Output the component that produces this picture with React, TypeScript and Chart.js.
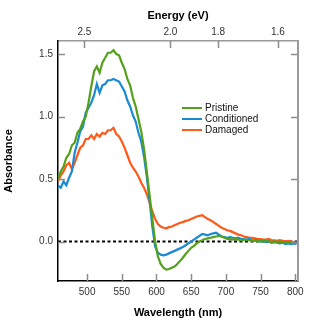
import React, { useEffect, useRef } from "react";
import { Chart, registerables } from "chart.js";

Chart.register(...registerables);

// ---- data ----
const WAVELENGTHS = [
  458, 462, 466, 470, 474, 478, 482, 486, 490, 494, 498, 502, 506, 510, 514, 518, 522, 526, 530, 534,
  538, 542, 546, 550, 554, 558, 562, 566, 570, 574, 578, 582, 586, 590, 594, 598, 602, 606, 610, 614,
  618, 622, 626, 630, 634, 638, 642, 646, 650, 654, 658, 662, 666, 670, 674, 678, 682, 686, 690, 694,
  698, 702, 706, 710, 714, 718, 722, 726, 730, 734, 738, 742, 746, 750, 754, 758, 762, 766, 770, 774,
  778, 782, 786, 790, 794, 798, 802,
];

const PRISTINE = [
  0.5, 0.56, 0.6, 0.67, 0.7, 0.77, 0.79, 0.87, 0.9, 0.96, 1.0, 1.11, 1.24, 1.36, 1.4, 1.35, 1.43, 1.47, 1.51, 1.51,
  1.53, 1.5, 1.49, 1.43, 1.38, 1.3, 1.25, 1.15, 1.08, 0.98, 0.88, 0.74, 0.56, 0.37, 0.18, 0.0, -0.12, -0.18, -0.21, -0.225,
  -0.22, -0.21, -0.2, -0.18, -0.155, -0.13, -0.1, -0.075, -0.05, -0.035, -0.015, 0.0, 0.01, 0.02, 0.025, 0.03, 0.035, 0.04, 0.045, 0.04,
  0.03, 0.02, 0.02, 0.015, 0.02, 0.015, 0.01, 0.015, 0.01, 0.01, 0.005, 0.01, 0.0, 0.005, 0.0, 0.005, 0.0, -0.005, 0.0, -0.005,
  0.0, -0.01, -0.005, -0.01, -0.005, -0.01, -0.01,
];

const CONDITIONED = [
  0.45, 0.43, 0.48, 0.45, 0.51, 0.56, 0.71, 0.79, 0.88, 0.92, 1.03, 1.07, 1.11, 1.17, 1.26, 1.19, 1.25, 1.26, 1.29, 1.29,
  1.3, 1.29, 1.28, 1.24, 1.2, 1.13, 1.08, 1.01, 0.96, 0.87, 0.8, 0.68, 0.52, 0.33, 0.12, -0.04, -0.09, -0.105, -0.11, -0.105,
  -0.095, -0.085, -0.075, -0.065, -0.055, -0.045, -0.03, -0.015, 0.0, 0.015, 0.03, 0.045, 0.06, 0.055, 0.05, 0.06, 0.065, 0.07, 0.055, 0.04,
  0.035, 0.03, 0.035, 0.03, 0.025, 0.03, 0.02, 0.02, 0.015, 0.02, 0.01, 0.005, 0.01, 0.0, 0.005, -0.005, 0.0, -0.01, -0.005, -0.01,
  -0.015, -0.01, -0.02, -0.015, -0.02, -0.015, -0.02,
];

const DAMAGED = [
  0.48, 0.53, 0.56, 0.61, 0.63, 0.58, 0.63, 0.69, 0.75, 0.77, 0.82, 0.82, 0.85, 0.82, 0.86, 0.84, 0.87, 0.86, 0.89, 0.89,
  0.91, 0.86, 0.84, 0.8, 0.75, 0.69, 0.63, 0.59, 0.56, 0.52, 0.47, 0.43, 0.38, 0.31, 0.24, 0.18, 0.14, 0.12, 0.11, 0.105,
  0.115, 0.12, 0.13, 0.14, 0.15, 0.155, 0.165, 0.17, 0.18, 0.19, 0.2, 0.205, 0.21, 0.195, 0.18, 0.17, 0.155, 0.14, 0.125, 0.11,
  0.1, 0.09, 0.085, 0.075, 0.065, 0.055, 0.05, 0.04, 0.035, 0.03, 0.03, 0.025, 0.02, 0.02, 0.015, 0.015, 0.02, 0.01, 0.01, 0.005,
  0.01, 0.005, 0.0, 0.005, 0.0, -0.005, -0.01,
];

const SERIES_NAMES = ["Pristine", "Conditioned", "Damaged"];
const SERIES_COLORS = ["#55a01a", "#1a8ad4", "#ff5a1a"];

const BASELINE_X = [458, 804];
const BASELINE_Y = [0, 0];

const WAVELENGTH_RANGE = [458, 804];
const ABSORBANCE_RANGE = [-0.316, 1.604];
const WAVELENGTH_TICKS = [500, 550, 600, 650, 700, 750, 800];
const ENERGY_TICKS = [2.5, 2.0, 1.8, 1.6];
const ABSORBANCE_TICKS = [0, 0.5, 1.0, 1.5];
const HC_EV_NM = 1240;

const FONT = "'Liberation Sans', Arial, Helvetica, sans-serif";

const inwardTicks = {
  id: "inwardTicks",
  afterDatasetsDraw(chart: any) {
    const { ctx, chartArea: a } = chart;
    const xs = chart.scales.x;
    const xt = chart.scales.xTop;
    const ys = chart.scales.y;
    ctx.save();
    ctx.strokeStyle = "#8c8c8c";
    ctx.lineWidth = 1.5;
    ctx.beginPath();
    for (const t of xs.ticks) {
      const px = Math.round(xs.getPixelForValue(t.value)) + 0.5;
      ctx.moveTo(px, a.bottom);
      ctx.lineTo(px, a.bottom - 7);
    }
    for (const t of xt.ticks) {
      const px = Math.round(xt.getPixelForValue(t.value)) + 0.5;
      ctx.moveTo(px, a.top);
      ctx.lineTo(px, a.top + 7);
    }
    for (const t of ys.ticks) {
      const py = Math.round(ys.getPixelForValue(t.value)) + 0.5;
      ctx.moveTo(a.left, py);
      ctx.lineTo(a.left + 7, py);
      ctx.moveTo(a.right, py);
      ctx.lineTo(a.right - 7, py);
    }
    ctx.stroke();
    ctx.strokeStyle = "#9a9a9a";
    ctx.lineWidth = 2;
    ctx.beginPath();
    ctx.moveTo(a.right, a.top);
    ctx.lineTo(a.right, a.bottom);
    ctx.stroke();
    ctx.restore();
  },
};

const insideLegend = {
  id: "insideLegend",
  afterDraw(chart: any) {
    const { ctx, chartArea: a } = chart;
    const x0 = a.left + 124;
    const y0 = a.top + 67;
    ctx.save();
    ctx.font = `10px ${FONT}`;
    ctx.textBaseline = "middle";
    ctx.textAlign = "left";
    let row = 0;
    chart.data.datasets.forEach((ds: any) => {
      if (!SERIES_NAMES.includes(ds.label)) return;
      const y = y0 + row * 11;
      ctx.strokeStyle = ds.borderColor;
      ctx.lineWidth = 2;
      ctx.beginPath();
      ctx.moveTo(x0, y);
      ctx.lineTo(x0 + 20, y);
      ctx.stroke();
      ctx.fillStyle = "#111";
      ctx.fillText(ds.label, x0 + 23, y);
      row++;
    });
    ctx.restore();
  },
};

export default function App() {
  const ref = useRef<HTMLCanvasElement | null>(null);

  useEffect(() => {
    document.body.style.margin = "0";
    const canvas = ref.current;
    if (!canvas) return;
    const seriesValues = [PRISTINE, CONDITIONED, DAMAGED];
    const datasets: any[] = SERIES_NAMES.map((name, i) => ({
      label: name,
      data: WAVELENGTHS.map((w, j) => ({ x: w, y: seriesValues[i][j] })),
      borderColor: SERIES_COLORS[i],
      borderWidth: 2.2,
      pointRadius: 0,
      fill: false,
      tension: 0,
    }));
    datasets.push({
      label: "baseline",
      data: BASELINE_X.map((x, j) => ({ x, y: BASELINE_Y[j] })),
      borderColor: "#000",
      borderWidth: 2,
      borderDash: [3, 2.5],
      pointRadius: 0,
      fill: false,
    });

    const chart = new Chart(canvas, {
      type: "line",
      data: { datasets },
      plugins: [inwardTicks, insideLegend],
      options: {
        animation: false,
        responsive: false,
        maintainAspectRatio: false,
        layout: { padding: { left: 0, top: 0, bottom: 0, right: 23 } },
        plugins: { legend: { display: false }, tooltip: { enabled: false } },
        scales: {
          x: {
            type: "linear",
            position: "bottom",
            min: WAVELENGTH_RANGE[0],
            max: WAVELENGTH_RANGE[1],
            afterBuildTicks: (s: any) => {
              s.ticks = WAVELENGTH_TICKS.map((v) => ({ value: v }));
            },
            afterFit: (s: any) => {
              s.height = 39;
            },
            ticks: {
              callback: (v: any) => String(v),
              font: { size: 10, family: FONT },
              color: "#333",
              padding: 5,
              maxRotation: 0,
              autoSkip: false,
            },
            grid: { display: true, drawOnChartArea: false, drawTicks: false },
            border: { display: true, color: "#000", width: 1.5 },
            title: {
              display: true,
              text: "Wavelength (nm)",
              font: { size: 11, weight: "bold", family: FONT },
              color: "#000",
              padding: { top: 0, bottom: 0 },
            },
          },
          xTop: {
            type: "linear",
            position: "top",
            min: WAVELENGTH_RANGE[0],
            max: WAVELENGTH_RANGE[1],
            afterBuildTicks: (s: any) => {
              s.ticks = ENERGY_TICKS.map((e) => ({ value: HC_EV_NM / e }));
            },
            afterFit: (s: any) => {
              s.height = 41;
            },
            ticks: {
              callback: (v: any) => (HC_EV_NM / Number(v)).toFixed(1),
              font: { size: 10, family: FONT },
              color: "#333",
              padding: 3,
              maxRotation: 0,
              autoSkip: false,
            },
            grid: { display: true, drawOnChartArea: false, drawTicks: false },
            border: { display: true, color: "#9a9a9a", width: 1.5 },
            title: {
              display: true,
              text: "Energy (eV)",
              font: { size: 11, weight: "bold", family: FONT },
              color: "#000",
              padding: { top: 9, bottom: 0 },
            },
          },
          y: {
            type: "linear",
            position: "left",
            min: ABSORBANCE_RANGE[0],
            max: ABSORBANCE_RANGE[1],
            afterBuildTicks: (s: any) => {
              s.ticks = ABSORBANCE_TICKS.map((v) => ({ value: v }));
            },
            afterFit: (s: any) => {
              s.width = 58;
            },
            ticks: {
              callback: (v: any) => Number(v).toFixed(1),
              font: { size: 10, family: FONT },
              color: "#333",
              padding: 5,
              autoSkip: false,
            },
            grid: { display: true, drawOnChartArea: false, drawTicks: false },
            border: { display: true, color: "#000", width: 1.5 },
            title: {
              display: true,
              text: "Absorbance",
              font: { size: 11, weight: "bold", family: FONT },
              color: "#000",
              padding: { top: 2, bottom: 0 },
            },
          },
        },
      },
    });
    return () => chart.destroy();
  }, []);

  return (
    <div style={{ width: 321, height: 320, background: "#fff" }}>
      <canvas ref={ref} width={321} height={320} style={{ display: "block" }} />
    </div>
  );
}
